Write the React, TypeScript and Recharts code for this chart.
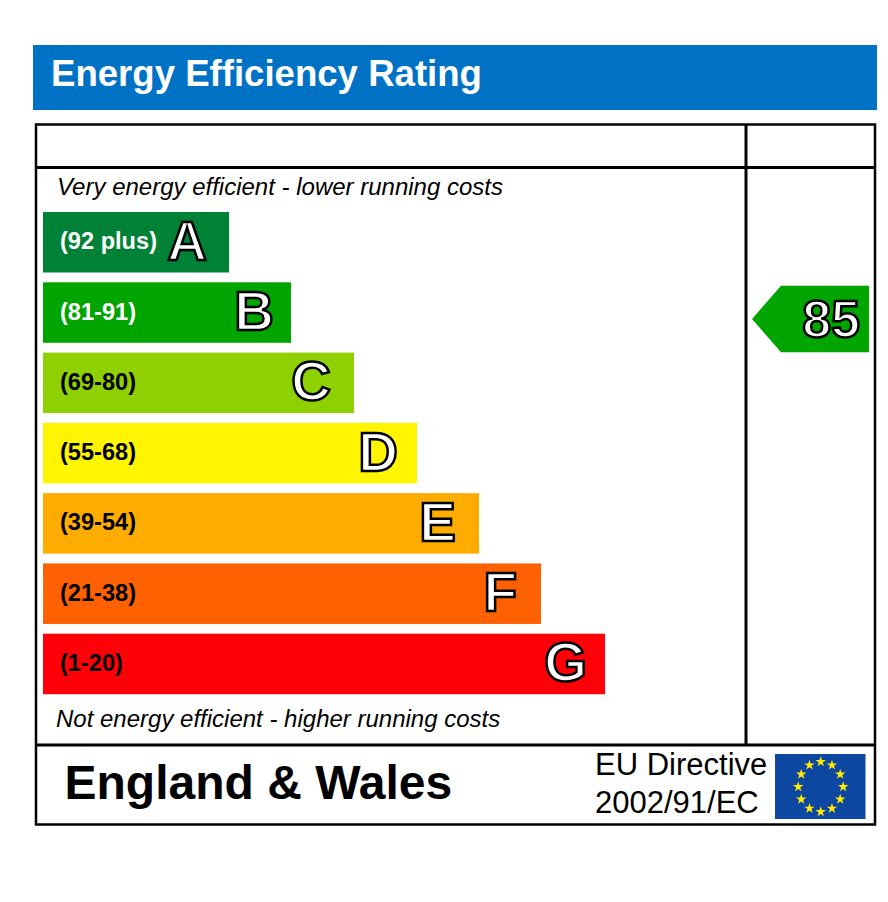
import { BarChart, Bar, XAxis, YAxis, LabelList } from "recharts";

const bands = ["A", "B", "C", "D", "E", "F", "G"];
const ranges = ["(92 plus)", "(81-91)", "(69-80)", "(55-68)", "(39-54)", "(21-38)", "(1-20)"];
const barLengths = [186, 248, 311, 374, 436, 498, 562];
const bandColors = ["#008236", "#00a500", "#8fd100", "#fff500", "#ffac00", "#ff6000", "#ff0008"];
const rangeColors = ["#ffffff", "#ffffff", "#000000", "#000000", "#000000", "#000000", "#000000"];
const currentBand = "B";
const currentScore = 85;
const currentRange = [709, 826];

const FONT = "'Liberation Sans', Arial, sans-serif";
const STAR_COUNT = 12;
// the letters do not sit at a constant distance from the bar end
const letterNudge = [-1, 4, -2, 2, -2, -3, 3];

const data = bands.map((band, i) => ({
  band,
  range: ranges[i],
  length: barLengths[i],
  current: band === currentBand ? currentRange : null,
  score: band === currentBand ? currentScore : null,
}));

const renderBand = (props: any) => {
  const { x, y, width, height, index } = props;
  return <rect x={x} y={y} width={width} height={height} fill={bandColors[index]} />;
};

const renderArrow = (props: any) => {
  const { x, y, width, height } = props;
  if (!width) return <g />;
  const top = y + 3.5;
  const bottom = y + height + 9.5;
  const mid = (top + bottom) / 2;
  return (
    <path
      d={`M${x},${mid}L${x + 29},${top}L${x + width},${top}L${x + width},${bottom}L${x + 29},${bottom}Z`}
      fill="#00a500"
    />
  );
};

const renderRange = (props: any) => {
  const { y, height, value, index } = props;
  return (
    <text x={60} y={y + height / 2 + 7} fontFamily={FONT} fontSize={23.6} fontWeight="bold" fill={rangeColors[index]}>
      {value}
    </text>
  );
};

const renderLetter = (props: any) => {
  const { x, y, width, height, value, index } = props;
  return (
    <text
      x={x + width - 21 + letterNudge[index]}
      y={y + height / 2 + 17.5}
      textAnchor="end"
      fontFamily={FONT}
      fontSize={55}
      fontWeight="bold"
      fill="#ffffff"
      stroke="#000000"
      strokeWidth={2.5}
    >
      {value}
    </text>
  );
};

const renderScore = (props: any) => {
  const { x, y, width, height, value } = props;
  if (value == null) return <g />;
  return (
    <text
      x={x + width - 9}
      y={y + height / 2 + 24.5}
      textAnchor="end"
      fontFamily={FONT}
      fontSize={52}
      fontWeight="bold"
      fill="#ffffff"
      stroke="#000000"
      strokeWidth={2.5}
    >
      {value}
    </text>
  );
};

const Star = ({ cx, cy, r }: any) => {
  const pts = [];
  for (let i = 0; i < 10; i++) {
    const rad = i % 2 === 0 ? r : r * 0.38;
    const a = (Math.PI / 5) * i - Math.PI / 2;
    pts.push(`${cx + rad * Math.cos(a)},${cy + rad * Math.sin(a)}`);
  }
  return <polygon points={pts.join(" ")} fill="#ffec00" />;
};

const EuFlag = () => {
  const stars = [];
  for (let i = 0; i < STAR_COUNT; i++) {
    const a = (Math.PI * 2 * i) / STAR_COUNT;
    stars.push(<Star key={i} cx={820.7 + 22.5 * Math.sin(a)} cy={786.8 - 25 * Math.cos(a)} r={5.5} />);
  }
  return (
    <g>
      <rect x={775} y={754} width={90.5} height={65} fill="#0e47a1" />
      {stars}
    </g>
  );
};

export default function App() {
  return (
    <div style={{ position: "absolute", left: 0, top: 0 }}>
      <BarChart
        width={888}
        height={902}
        data={data}
        layout="vertical"
        barSize={60.5}
        barGap={-60.5}
        margin={{ top: 207, right: 19, bottom: 203, left: 43 }}
      >
        {/* header and frame */}
        <rect x={33} y={45} width={844} height={65} fill="#0072c6" />
        <text x={51} y={86} fontFamily={FONT} fontSize={36.6} fontWeight="bold" fill="#ffffff">
          Energy Efficiency Rating
        </text>
        <rect x={36} y={124.5} width={839} height={700} fill="none" stroke="#000000" strokeWidth={2.5} />
        <line x1={36} y1={167.5} x2={875} y2={167.5} stroke="#000000" strokeWidth={3} />
        <line x1={36} y1={745} x2={875} y2={745} stroke="#000000" strokeWidth={3} />
        <line x1={746} y1={124} x2={746} y2={745} stroke="#000000" strokeWidth={3} />

        <text x={57} y={195} fontFamily={FONT} fontSize={24} fontStyle="italic" fill="#000000">
          Very energy efficient - lower running costs
        </text>
        <text x={56} y={727} fontFamily={FONT} fontSize={24} fontStyle="italic" fill="#000000">
          Not energy efficient - higher running costs
        </text>

        <XAxis type="number" domain={[0, 826]} hide />
        <YAxis type="category" dataKey="band" hide />

        <Bar dataKey="length" shape={renderBand} isAnimationActive={false}>
          <LabelList dataKey="range" content={renderRange} />
          <LabelList dataKey="band" content={renderLetter} />
        </Bar>
        <Bar dataKey="current" shape={renderArrow} isAnimationActive={false}>
          <LabelList dataKey="score" content={renderScore} />
        </Bar>

        <text x={64.5} y={799} fontFamily={FONT} fontSize={48} fontWeight="bold" fill="#000000">
          England &amp; Wales
        </text>
        <text x={595} y={775} fontFamily={FONT} fontSize={31} fill="#000000">
          EU Directive
        </text>
        <text x={595} y={813} fontFamily={FONT} fontSize={31} fill="#000000">
          2002/91/EC
        </text>
        <EuFlag />
      </BarChart>
    </div>
  );
}
